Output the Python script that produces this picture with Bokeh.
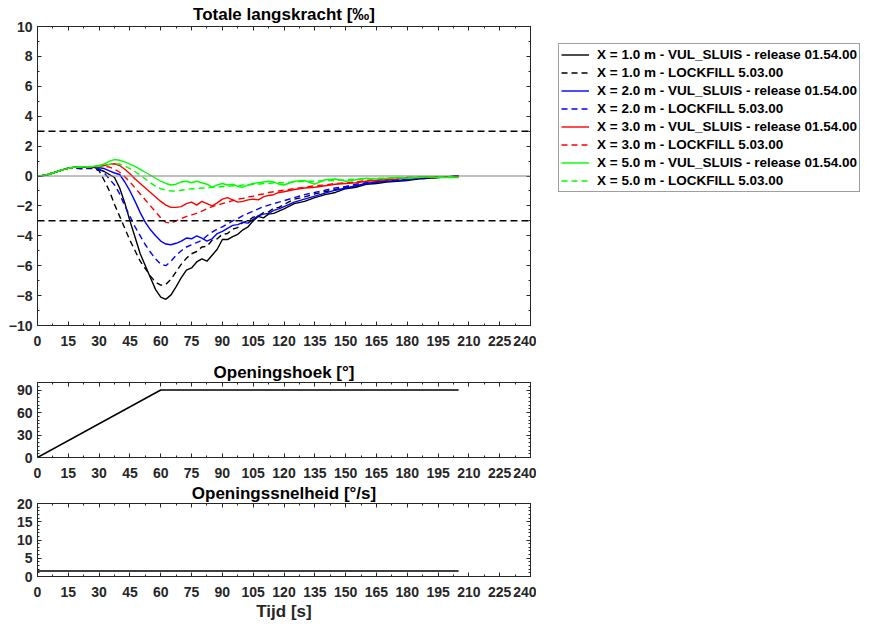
from bokeh.plotting import figure
from bokeh.models import (Range1d, SingleIntervalTicker, LinearAxis, Span, Legend,
                          LegendItem, CustomJSTickFormatter)
from bokeh.layouts import column, row
from bokeh.embed import file_html
from bokeh.resources import INLINE

# ---------------- data ----------------
t = [0, 2.5, 5, 7.5, 10, 12.5, 15, 17.5, 20, 22.5,
     25, 27.5, 30, 32.5, 35, 37.5, 40, 42.5, 45, 47.5,
     50, 52.5, 55, 57.5, 60, 62.5, 65, 67.5, 70, 72.5,
     75, 77.5, 80, 82.5, 85, 87.5, 90, 92.5, 95, 97.5,
     100, 102.5, 105, 107.5, 110, 112.5, 115, 117.5, 120,
     125, 130, 135, 140, 145, 150, 155, 160, 165, 170,
     175, 180, 185, 190, 195, 200, 205]

x1_vul = [0.0, 0.03, 0.1, 0.2, 0.32, 0.43, 0.52, 0.58, 0.6, 0.6,
          0.6, 0.58, 0.45, 0.3, 0.1, -0.1, -0.8, -1.8, -3.0, -4.1,
          -5.2, -6.0, -6.8, -7.6, -8.1, -8.25, -7.95, -7.4, -6.8, -6.3,
          -6.15, -5.75, -5.55, -5.7, -5.3, -4.9, -4.25, -4.25, -4.05, -3.9,
          -3.6, -3.4, -3.0, -2.7, -2.8, -2.55, -2.5, -2.35, -2.2,
          -1.85, -1.7, -1.45, -1.25, -1.1, -0.85, -0.75, -0.55, -0.5, -0.4,
          -0.35, -0.3, -0.2, -0.15, -0.1, -0.05, 0.0]
x1_lf = [0.0, 0.03, 0.1, 0.2, 0.32, 0.43, 0.52, 0.55, 0.5, 0.48,
         0.5, 0.5, 0.35, -0.3, -1.0, -1.9, -2.7, -3.5, -4.3, -5.0,
         -5.7, -6.2, -6.7, -7.1, -7.3, -7.25, -6.9, -6.4, -5.9, -5.5,
         -5.2, -5.05, -4.75, -4.7, -4.3, -4.2, -3.9, -3.85, -3.55, -3.45,
         -3.1, -3.0, -2.75, -2.7, -2.45, -2.4, -2.15, -2.1, -1.9,
         -1.55, -1.4, -1.2, -1.05, -0.9, -0.75, -0.65, -0.5, -0.45, -0.35,
         -0.3, -0.25, -0.2, -0.15, -0.1, -0.05, 0.0]
x2_vul = [0.0, 0.03, 0.1, 0.2, 0.32, 0.43, 0.52, 0.58, 0.6, 0.6,
          0.6, 0.6, 0.55, 0.5, 0.35, 0.2, 0.1, -0.4, -1.0, -1.7,
          -2.45, -3.1, -3.6, -4.0, -4.35, -4.55, -4.6, -4.5, -4.35, -4.15,
          -4.2, -4.0, -4.15, -4.35, -4.2, -3.85, -3.7, -3.5, -3.3, -3.25,
          -3.1, -3.15, -2.9, -2.65, -2.55, -2.5, -2.3, -2.2, -2.05,
          -1.75, -1.55, -1.35, -1.15, -0.95, -0.8, -0.65, -0.5, -0.4, -0.35,
          -0.3, -0.25, -0.15, -0.1, -0.05, -0.05, 0.0]
x2_lf = [0.0, 0.03, 0.1, 0.2, 0.32, 0.43, 0.52, 0.55, 0.52, 0.5,
         0.52, 0.55, 0.45, 0.2, -0.2, -0.6, -1.2, -2.0, -2.7, -3.4,
         -4.0, -4.6, -5.1, -5.55, -5.9, -6.0, -5.7, -5.3, -5.0, -4.75,
         -4.6, -4.45, -4.3, -4.0, -3.75, -3.55, -3.4, -3.2, -3.0, -2.85,
         -2.65, -2.5, -2.35, -2.2, -2.05, -1.95, -1.85, -1.75, -1.65,
         -1.45, -1.25, -1.1, -0.95, -0.8, -0.7, -0.55, -0.45, -0.4, -0.3,
         -0.25, -0.2, -0.15, -0.1, -0.05, -0.05, 0.0]
x3_vul = [0.0, 0.03, 0.1, 0.2, 0.32, 0.43, 0.52, 0.58, 0.6, 0.6,
          0.6, 0.62, 0.65, 0.7, 0.78, 0.82, 0.7, 0.45, 0.15, -0.2,
          -0.5, -0.8, -1.1, -1.4, -1.7, -1.95, -2.1, -2.1, -2.05, -1.85,
          -1.75, -1.95, -1.7, -1.85, -2.0, -1.8, -1.55, -1.45, -1.6, -1.75,
          -1.7, -1.6, -1.55, -1.6, -1.4, -1.3, -1.25, -1.1, -1.05,
          -0.9, -0.8, -0.75, -0.65, -0.55, -0.5, -0.45, -0.35, -0.3, -0.25,
          -0.2, -0.1, -0.1, -0.05, -0.05, -0.05, -0.05]
x3_lf = [0.0, 0.03, 0.1, 0.2, 0.32, 0.43, 0.52, 0.58, 0.6, 0.6,
         0.6, 0.6, 0.62, 0.65, 0.6, 0.45, 0.25, -0.05, -0.4, -0.8,
         -1.2, -1.6, -2.0, -2.4, -2.8, -3.1, -3.15, -3.0, -2.85, -2.7,
         -2.6, -2.5, -2.35, -2.2, -2.05, -1.95, -1.85, -1.75, -1.65, -1.55,
         -1.5, -1.4, -1.35, -1.25, -1.2, -1.1, -1.05, -1.0, -0.95,
         -0.85, -0.75, -0.65, -0.6, -0.5, -0.45, -0.4, -0.3, -0.25, -0.2,
         -0.15, -0.1, -0.1, -0.05, -0.05, -0.05, -0.05]
x5_vul = [0.0, 0.03, 0.1, 0.2, 0.32, 0.43, 0.52, 0.58, 0.6, 0.62,
          0.63, 0.65, 0.7, 0.8, 1.0, 1.1, 1.05, 0.95, 0.8, 0.65,
          0.45, 0.25, 0.05, -0.15, -0.35, -0.5, -0.6, -0.55, -0.4, -0.35,
          -0.45, -0.35, -0.45, -0.55, -0.75, -0.6, -0.5, -0.6, -0.55, -0.7,
          -0.75, -0.6, -0.5, -0.45, -0.4, -0.35, -0.4, -0.55, -0.6,
          -0.35, -0.3, -0.55, -0.25, -0.2, -0.35, -0.25, -0.15, -0.2, -0.15,
          -0.1, -0.15, -0.1, -0.05, -0.1, -0.1, -0.1]
x5_lf = [0.0, 0.03, 0.1, 0.2, 0.32, 0.43, 0.52, 0.58, 0.6, 0.6,
         0.6, 0.62, 0.65, 0.7, 0.78, 0.82, 0.8, 0.65, 0.5, 0.3,
         0.05, -0.2, -0.45, -0.7, -0.85, -0.95, -1.0, -1.0, -0.95, -0.9,
         -0.85, -0.85, -0.8, -0.8, -0.75, -0.75, -0.7, -0.7, -0.65, -0.65,
         -0.6, -0.6, -0.55, -0.55, -0.5, -0.5, -0.45, -0.45, -0.45,
         -0.4, -0.35, -0.35, -0.3, -0.3, -0.25, -0.2, -0.2, -0.15, -0.15,
         -0.1, -0.1, -0.1, -0.05, -0.05, -0.05, -0.05]

series_labels = [
    "X = 1.0 m - VUL_SLUIS - release 01.54.00",
    "X = 1.0 m - LOCKFILL 5.03.00",
    "X = 2.0 m - VUL_SLUIS - release 01.54.00",
    "X = 2.0 m - LOCKFILL 5.03.00",
    "X = 3.0 m - VUL_SLUIS - release 01.54.00",
    "X = 3.0 m - LOCKFILL 5.03.00",
    "X = 5.0 m - VUL_SLUIS - release 01.54.00",
    "X = 5.0 m - LOCKFILL 5.03.00",
]
series_values = [x1_vul, x1_lf, x2_vul, x2_lf, x3_vul, x3_lf, x5_vul, x5_lf]
series_colors = ["#000000", "#000000", "#0000FF", "#0000FF",
                 "#FF0000", "#FF0000", "#00FF00", "#00FF00"]
series_dashes = ["solid", "6 4", "solid", "6 4", "solid", "6 4", "solid", "6 4"]

limit_levels = [3, -3]
zero_level = 0

t_angle = [0, 60, 205]
angle = [0, 90, 90]

t_speed = [0, 205]
speed = [1.5, 1.5]

x_ticks_interval = 15

# ---------------- styling helpers ----------------
FONT = "Liberation Sans"
AX = "#262626"
W = 536
B_LEFT = 37
B_RIGHT = 6
LW = 866 - W      # legend column width
LH = 200          # legend column height


def style(p, xint, xminor, yint, yminor):
    bottom = p.below[0]
    left = p.left[0]
    xt = SingleIntervalTicker(interval=xint, num_minor_ticks=xminor)
    yt = SingleIntervalTicker(interval=yint, num_minor_ticks=yminor)
    bottom.ticker = xt
    left.ticker = yt
    p.xgrid.visible = False
    p.ygrid.visible = False
    p.outline_line_color = AX
    p.outline_line_width = 1
    p.title.text_font = FONT
    p.title.text_font_size = "17px"
    p.title.text_font_style = "bold"
    p.title.text_color = "#000000"
    p.title.align = "center"
    p.title.standoff = 2
    blank = CustomJSTickFormatter(code="return '';")
    top = LinearAxis(ticker=xt, formatter=blank)
    right = LinearAxis(ticker=yt, formatter=blank)
    p.add_layout(top, "above")
    p.add_layout(right, "right")
    for ax in [bottom, left, top, right]:
        ax.axis_line_color = AX
        ax.major_tick_line_color = AX
        ax.minor_tick_line_color = AX
        ax.major_tick_in = 4
        ax.major_tick_out = 0
        ax.minor_tick_in = 2
        ax.minor_tick_out = 0
        ax.major_label_text_font = FONT
        ax.major_label_text_font_style = "bold"
        ax.major_label_text_font_size = "14px"
        ax.major_label_text_color = AX
    bottom.major_label_standoff = 10
    left.major_label_standoff = 5
    for ax in [top, right]:
        ax.major_label_standoff = 0
    return bottom


# ---------------- main figure ----------------
p1 = figure(width=W, height=355, output_backend="svg", toolbar_location=None,
            x_range=Range1d(0, 240), y_range=Range1d(-10, 10),
            title="Totale langskracht [‰]",
            min_border_left=B_LEFT, min_border_right=B_RIGHT,
            min_border_top=25, min_border_bottom=30)
style(p1, x_ticks_interval, 2, 2, 2)
p1.title.standoff = 5

p1.add_layout(Span(location=zero_level, dimension="width", line_color="#808080", line_width=1))
for lv in limit_levels:
    p1.add_layout(Span(location=lv, dimension="width", line_color="#000000",
                       line_width=1.5, line_dash="7 4"))

for vals, col, dash in zip(series_values, series_colors, series_dashes):
    p1.line(t, vals, line_color=col, line_width=1.4, line_dash=dash)

# ---------------- legend panel: same series, viewed outside their range ----------------
pl = figure(width=LW, height=LH, output_backend="svg", toolbar_location=None,
            x_axis_type=None, y_axis_type=None,
            x_range=Range1d(-2, -1), y_range=Range1d(-2, -1),
            min_border=0, min_border_left=0, min_border_right=0,
            min_border_top=0, min_border_bottom=0)
pl.outline_line_color = None
pl.xgrid.visible = False
pl.ygrid.visible = False
items = []
for lab, vals, col, dash in zip(series_labels, series_values, series_colors, series_dashes):
    r = pl.line(t, vals, line_color=col, line_width=1.4, line_dash=dash)
    items.append(LegendItem(label=lab, renderers=[r]))
legend = Legend(items=items, location=(558 - W, LH - 192))
legend.label_text_font = FONT
legend.label_text_font_style = "bold"
legend.label_text_font_size = "13.5px"
legend.label_text_color = "#000000"
legend.label_height = 17
legend.glyph_height = 17
legend.glyph_width = 28
legend.label_standoff = 8
legend.spacing = 1
legend.padding = 2
legend.margin = 0
legend.border_line_color = "#404040"
legend.border_line_width = 1
legend.background_fill_color = "white"
legend.background_fill_alpha = 1
pl.add_layout(legend)

# ---------------- opening angle ----------------
p2 = figure(width=W, height=125, output_backend="svg", toolbar_location=None,
            x_range=Range1d(0, 240), y_range=Range1d(0, 100),
            title="Openingshoek [°]",
            min_border_left=B_LEFT, min_border_right=B_RIGHT,
            min_border_top=27, min_border_bottom=23)
style(p2, x_ticks_interval, 2, 30, 6)
p2.line(t_angle, angle, line_color="#000000", line_width=1.5)

# ---------------- opening speed ----------------
p3 = figure(width=W, height=144, output_backend="svg", toolbar_location=None,
            x_range=Range1d(0, 240), y_range=Range1d(0, 20),
            title="Openingssnelheid [°/s]",
            min_border_left=B_LEFT, min_border_right=B_RIGHT,
            min_border_top=21, min_border_bottom=48)
b3 = style(p3, x_ticks_interval, 2, 5, 5)
p3.line(t_speed, speed, line_color="#000000", line_width=1.5)
b3.axis_label = "Tijd [s]"
b3.axis_label_text_font = FONT
b3.axis_label_text_font_size = "17px"
b3.axis_label_text_font_style = "bold"
b3.axis_label_text_color = AX
b3.axis_label_standoff = 2

layout = row(column(p1, p2, p3, spacing=0), pl, spacing=0)
open("out.html", "w").write(file_html(layout, INLINE))
